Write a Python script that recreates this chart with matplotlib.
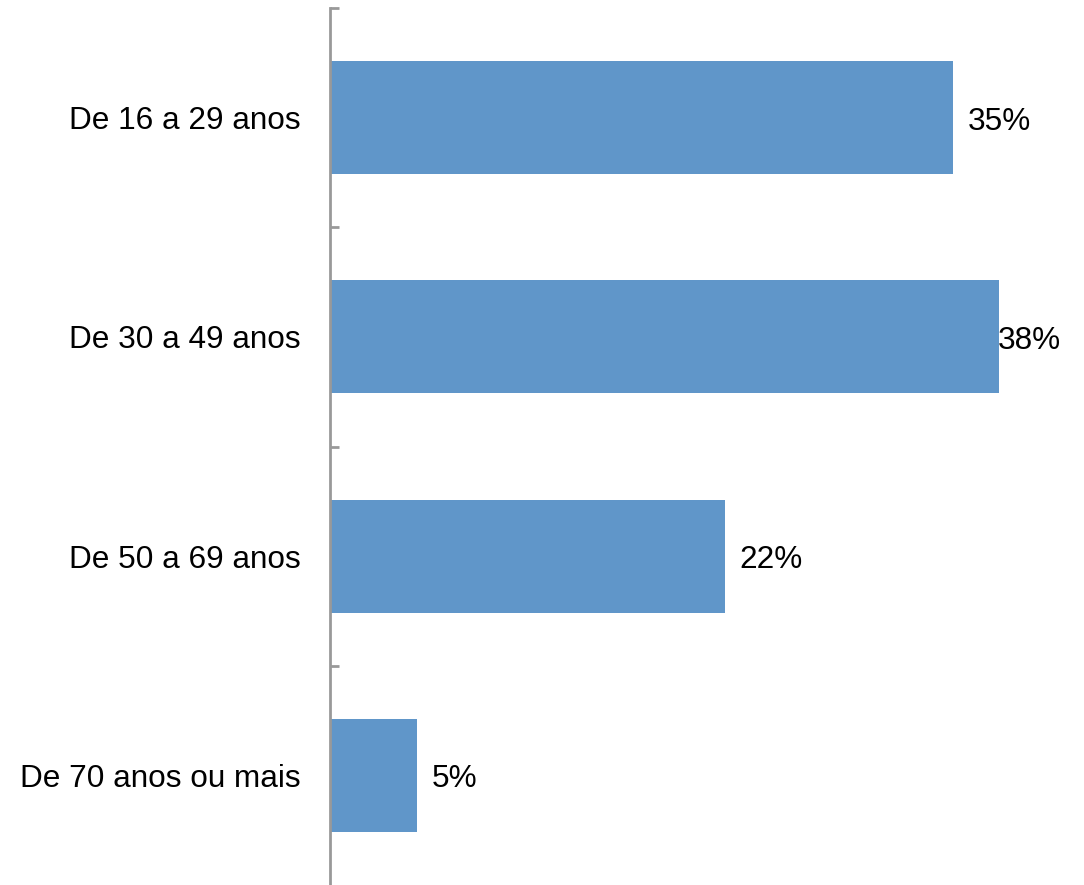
import matplotlib
matplotlib.use("Agg")
import matplotlib.pyplot as plt
import matplotlib.transforms as mtransforms

categories = ["De 16 a 29 anos", "De 30 a 49 anos", "De 50 a 69 anos", "De 70 anos ou mais"]
values = [35.2, 37.8, 22.3, 4.9]
labels = ["35%", "38%", "22%", "5%"]

plt.rcParams['font.family'] = ['Liberation Sans', 'DejaVu Sans']

W, H = 1084, 885
fig = plt.figure(figsize=(W / 100, H / 100), dpi=100)
left = 330 / W
xmax = 41.3
right = (330 + xmax * 17.7) / W
ax = fig.add_axes([left, 0.0, right - left, 1 - 8 / H])

y = list(range(len(categories)))
ax.barh(y, values, height=0.515, color="#6096C9", zorder=2)
ax.set_xlim(0, xmax)
ax.set_ylim(len(categories) - 0.5, -0.5)

down4 = mtransforms.ScaledTranslation(0, -4 / 100, fig.dpi_scale_trans)
down2 = mtransforms.ScaledTranslation(0, -2 / 100, fig.dpi_scale_trans)

for yi, v, lab in zip(y, values, labels):
    t = ax.text(v + 0.85, yi, lab, va="center", ha="left", fontsize=22.7, color="black",
                transform=ax.transData + down4)
    fig.canvas.draw()
    bb = t.get_window_extent()
    axbb = ax.get_window_extent()
    if bb.x1 > axbb.x1:
        t.set_ha("right")
        t.set_x(xmax)

ax.set_yticks(y)
ax.set_yticklabels(categories, fontsize=22.7)
for lbl in ax.get_yticklabels():
    lbl.set_transform(lbl.get_transform() + down2)
ax.set_yticks([i - 0.5 for i in range(len(categories))], minor=True)
ax.tick_params(axis="y", which="major", length=0, pad=21.2)
ax.tick_params(axis="y", which="minor", direction="in", length=6.5, width=2, color="#999999")
ax.set_xticks([])
for s in ["top", "right", "bottom"]:
    ax.spines[s].set_visible(False)
ax.spines["left"].set_color("#999999")
ax.spines["left"].set_linewidth(2)

fig.savefig("out.png", dpi=100)
